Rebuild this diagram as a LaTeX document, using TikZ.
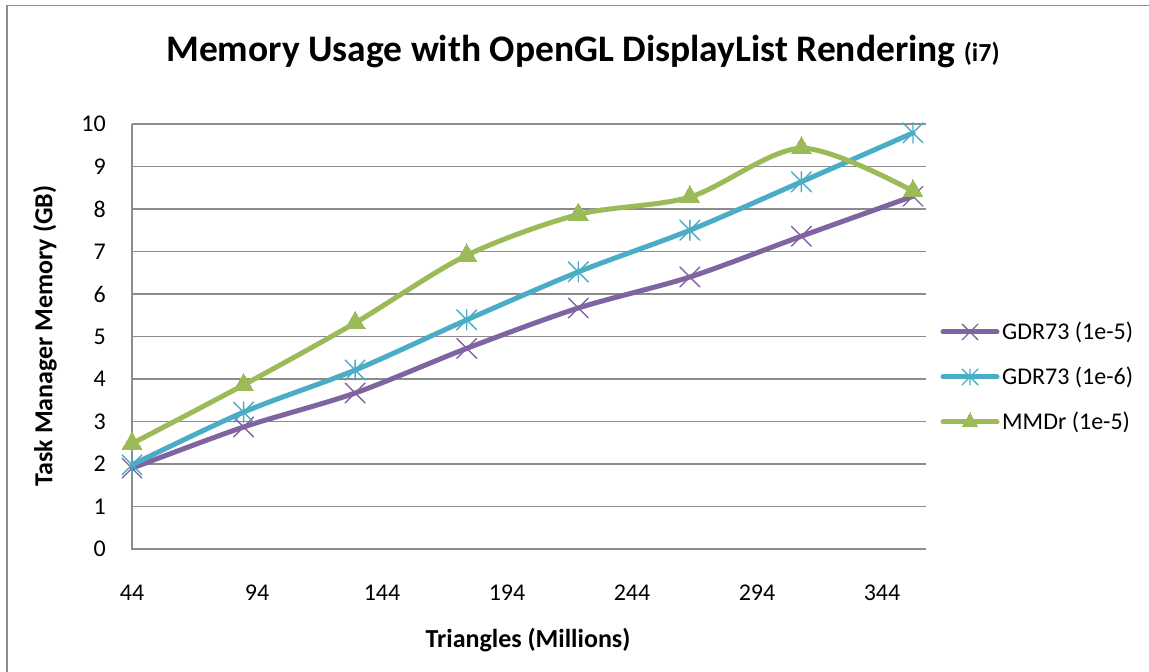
\documentclass[tikz,border=0pt]{standalone}
\usepackage{fontspec}
\setmainfont{Carlito}
\usetikzlibrary{positioning,plotmarks}
\definecolor{gdrpurple}{HTML}{8064A2}
\definecolor{gdrblue}{HTML}{4BACC6}
\definecolor{mmdrgreen}{HTML}{9BBB59}
\definecolor{gridgray}{HTML}{8C8C8C}
% x with a vertical bar, as the chart's star marker
\pgfdeclareplotmark{starx}{%
    \pgfpathmoveto{\pgfqpoint{0pt}{\pgfplotmarksize}}%
    \pgfpathlineto{\pgfqpoint{0pt}{-\pgfplotmarksize}}%
    \pgfpathmoveto{\pgfqpoint{-\pgfplotmarksize}{-\pgfplotmarksize}}%
    \pgfpathlineto{\pgfqpoint{\pgfplotmarksize}{\pgfplotmarksize}}%
    \pgfpathmoveto{\pgfqpoint{-\pgfplotmarksize}{\pgfplotmarksize}}%
    \pgfpathlineto{\pgfqpoint{\pgfplotmarksize}{-\pgfplotmarksize}}%
    \pgfusepathqstroke}
\tikzset{
    gridline/.style={
        draw=gridgray,
        line width=1.6pt,
    },
    ticklabel/.style={
        font=\fontsize{24}{26}\selectfont,
        inner sep=0pt,
    },
    axistitle/.style={
        font=\fontsize{26}{28}\selectfont\bfseries,
        inner sep=0pt,
    },
    series/.style={
        line width=5pt,
        smooth,
        tension=0.5,
        line join=round,
        line cap=round,
    },
    gdr-five/.style={
        series,
        draw=gdrpurple,
        mark=x,
        mark size=14pt,
        mark options={line width=1.4pt,draw=gdrpurple},
    },
    gdr-six/.style={
        series,
        draw=gdrblue,
        mark=starx,
        mark size=10pt,
        mark options={line width=1.4pt,draw=gdrblue},
    },
    mmdr/.style={
        series,
        draw=mmdrgreen,
        mark=triangle*,
        mark size=11.5pt,
        mark options={draw=mmdrgreen,fill=mmdrgreen,line width=0pt},
    },
}

\begin{document}
\begin{tikzpicture}[x=1pt,y=1pt]
    \useasboundingbox (0,0) rectangle (1149,672);
    % frame
    \coordinate (frame-tl) at (7,666.5);
    \draw[gridline] (1149,666.5) -- (frame-tl) -- (7,0);
    % title
    \node[anchor=base, inner sep=0pt, font=\fontsize{37.5}{40}\selectfont\bfseries] (title) at (583,610)
        {Memory Usage with OpenGL DisplayList Rendering {\fontsize{26}{28}\selectfont (i7)}};
    \node[axistitle, rotate=90] (ytitle) at (45,336) {Task Manager Memory (GB)};
    \node[axistitle] (xtitle) at (528,32) {Triangles (Millions)};
    % plot area
    \begin{scope}[shift={(132,123)}, x=111.57pt, y=42.5pt]
        \foreach \v in {1,...,10}
            \draw[gridline] (0,\v) -- (7.117,\v);
        \draw[gridline] (0,10) -- (0,0) -- (7.117,0);
        \foreach \v in {0,...,10}
            \node[ticklabel, anchor=east] (ytick-\v) at ([xshift=-26pt]0,\v) {\v};
        \foreach \t [count=\k from 0] in {44,94,...,344}
            \node[ticklabel] (xtick-\t) at ([yshift=-44pt]1.1204*\k,0) {\t};
        % data
        \draw[gdr-five] plot coordinates {(0,1.90) (1,2.87) (2,3.67) (3,4.72) (4,5.67) (5,6.40) (6,7.36) (7,8.30)};
        \draw[gdr-six] plot coordinates {(0,1.98) (1,3.22) (2,4.21) (3,5.39) (4,6.52) (5,7.50) (6,8.64) (7,9.79)};
        \draw[mmdr] plot coordinates {(0,2.48) (1,3.86) (2,5.32) (3,6.91) (4,7.87) (5,8.28) (6,9.43) (7,8.42)};
    \end{scope}
    % legend
    \foreach \ser/\ms/\lab [count=\i from 0] in {gdr-five/11pt/GDR73 (1e-5), gdr-six/8pt/GDR73 (1e-6), mmdr/9pt/MMDr (1e-5)} {
        \coordinate (leg-\i-a) at (943,340-45*\i);
        \coordinate (leg-\i-b) at (997,340-45*\i);
        \draw[\ser] (leg-\i-a) -- (leg-\i-b);
        \path[\ser, mark size=\ms] plot coordinates {(970,340-45*\i)};
        \node[ticklabel, anchor=west, right=5pt of leg-\i-b] (leg-\i) {\lab};
    }
\end{tikzpicture}
\end{document}
